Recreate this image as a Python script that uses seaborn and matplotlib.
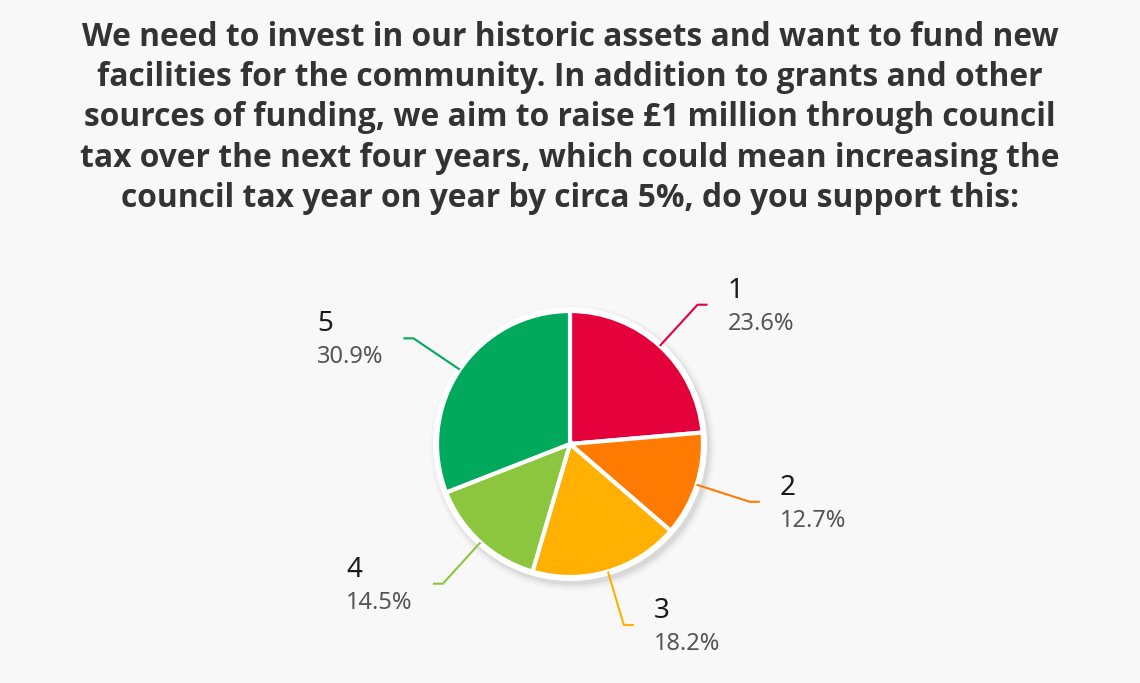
import matplotlib
matplotlib.use("Agg")
import matplotlib.pyplot as plt
import seaborn as sns
import numpy as np
from matplotlib.patches import Circle

# survey answers (1 = strongly against ... 5 = strongly for)
labels = ["1", "2", "3", "4", "5"]
shares = [23.6, 12.7, 18.2, 14.5, 30.9]
colors = ["#e4003b", "#ff7a00", "#ffb000", "#8cc63f", "#00a95c"]
title_lines = [
    "We need to invest in our historic assets and want to fund new",
    "facilities for the community. In addition to grants and other",
    "sources of funding, we aim to raise £1 million through council",
    "tax over the next four years, which could mean increasing the",
    "council tax year on year by circa 5%, do you support this:",
]

sns.set_theme(style="white")
plt.rcParams["font.family"] = ["Open Sans", "DejaVu Sans"]

W, H = 1140, 683
bg = "#f8f8f8"
fig = plt.figure(figsize=(W / 100, H / 100), dpi=100)
fig.patch.set_facecolor(bg)
ax = fig.add_axes([0, 0, 1, 1])
ax.set_facecolor(bg)

cx, cy, r = 570, H - 444, 133

# soft shadow + white rim behind the pie
for dr, a in [(10, 0.015), (8, 0.025), (6, 0.035), (4, 0.05)]:
    ax.add_patch(Circle((cx + 3, cy - 4), r + dr, color="black", alpha=a, lw=0, zorder=1))
ax.add_patch(Circle((cx, cy), r + 4, color="white", lw=0, zorder=2))

wedges, _ = ax.pie(shares, colors=colors, startangle=90, counterclock=False,
                   center=(cx, cy), radius=r, frame=True,
                   wedgeprops=dict(edgecolor="white", linewidth=3))
for w in wedges:
    w.set_zorder(3)

vals = np.array(shares)
starts = np.cumsum(vals) - vals
mids = np.deg2rad(90 - (starts + vals / 2) * 3.6)

fig.canvas.draw()
renderer = fig.canvas.get_renderer()

for lab, val, col, th in zip(labels, shares, colors, mids):
    c, s = np.cos(th), np.sin(th)
    x0, y0 = cx + r * c, cy + r * s
    x1, y1 = cx + 1.42 * r * c, cy + 1.42 * r * s
    side = 1 if c > 0 else -1
    x2 = x1 + side * 10
    ax.plot([x0, x1, x2], [y0, y1, y1], color=col, lw=1.5, zorder=4,
            solid_capstyle="butt")
    pct = ax.text(0, y1 - 19, f"{val}%", fontsize=17, color="#555555",
                  family=["Noto Sans", "DejaVu Sans"], va="center", ha="left")
    if side > 0:
        tx = x2 + 20
    else:
        bb = pct.get_window_extent(renderer)
        tx = x2 - 20 - bb.width
    pct.set_x(tx)
    ax.text(tx, y1 + 14, lab, fontsize=20, color="#1a1a1a",
            family=["Noto Sans", "DejaVu Sans"], va="center", ha="left")

ax.set_xlim(0, W)
ax.set_ylim(0, H)
ax.set_aspect("equal")
ax.axis("off")

fig.text(0.5, 1 - 21 / H, "\n".join(title_lines), ha="center", va="top",
         fontsize=22.9, fontweight="bold", color="#333333", linespacing=1.29)

fig.savefig("out.png", dpi=100, facecolor=bg)
